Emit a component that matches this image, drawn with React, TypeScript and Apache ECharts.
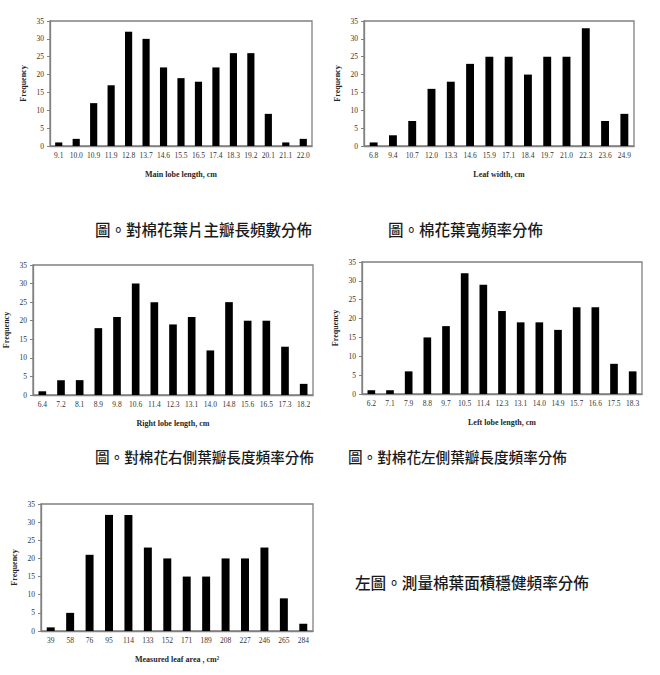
import React, { useEffect, useRef } from "react";
import * as echarts from "echarts";

const mainLobeCats = ["9.1", "10.0", "10.9", "11.9", "12.8", "13.7", "14.6", "15.5", "16.5", "17.4", "18.3", "19.2", "20.1", "21.1", "22.0"];
const mainLobeFreq = [1, 2, 12, 17, 32, 30, 22, 19, 18, 22, 26, 26, 9, 1, 2];

const leafWidthCats = ["6.8", "9.4", "10.7", "12.0", "13.3", "14.6", "15.9", "17.1", "18.4", "19.7", "21.0", "22.3", "23.6", "24.9"];
const leafWidthFreq = [1, 3, 7, 16, 18, 23, 25, 25, 20, 25, 25, 33, 7, 9];

const rightLobeCats = ["6.4", "7.2", "8.1", "8.9", "9.8", "10.6", "11.4", "12.3", "13.1", "14.0", "14.8", "15.6", "16.5", "17.3", "18.2"];
const rightLobeFreq = [1, 4, 4, 18, 21, 30, 25, 19, 21, 12, 25, 20, 20, 13, 3];

const leftLobeCats = ["6.2", "7.1", "7.9", "8.8", "9.7", "10.5", "11.4", "12.3", "13.1", "14.0", "14.9", "15.7", "16.6", "17.5", "18.3"];
const leftLobeFreq = [1, 1, 6, 15, 18, 32, 29, 22, 19, 19, 17, 23, 23, 8, 6];

const areaCats = ["39", "58", "76", "95", "114", "133", "152", "171", "189", "208", "227", "246", "265", "284"];
const areaFreq = [1, 5, 21, 32, 32, 23, 20, 15, 15, 20, 20, 23, 9, 2];

const xTitles = ["Main lobe length, cm", "Leaf width, cm", "Right lobe length, cm", "Left lobe length, cm", "Measured leaf area , cm²"];
const yTitle = "Frequency";

const captions = [
  "圖。對棉花葉片主瓣長頻數分佈",
  "圖。棉花葉寬頻率分佈",
  "圖。對棉花右側葉瓣長度頻率分佈",
  "圖。對棉花左側葉瓣長度頻率分佈",
  "左圖。測量棉葉面積穩健頻率分佈",
];

const panels = [
  { cats: mainLobeCats, vals: mainLobeFreq },
  { cats: leafWidthCats, vals: leafWidthFreq },
  { cats: rightLobeCats, vals: rightLobeFreq },
  { cats: leftLobeCats, vals: leftLobeFreq },
  { cats: areaCats, vals: areaFreq },
];

const gridBoxes = [
  { left: 50, top: 21, width: 262, height: 125 },
  { left: 364, top: 21, width: 270, height: 125 },
  { left: 33, top: 265, width: 280, height: 130 },
  { left: 362, top: 262, width: 280, height: 132 },
  { left: 41, top: 504, width: 272, height: 127 },
];

const captionPos = [
  { x: 95, y: 230, size: 15.5 },
  { x: 388, y: 230, size: 15.5 },
  { x: 95, y: 457, size: 14.6 },
  { x: 348, y: 457, size: 14.6 },
  { x: 355, y: 583, size: 15.6 },
];

export default function App() {
  const ref = useRef<HTMLDivElement>(null);
  useEffect(() => {
    if (!ref.current) return;
    const chart = echarts.init(ref.current, null, { renderer: "svg" });
    const serif = "'Liberation Serif', 'Times New Roman', serif";
    const axisGray = "#808080";
    const option: any = {
      animation: false,
      backgroundColor: "#ffffff",
      grid: gridBoxes.map((g) => ({
        ...g,
        show: true,
        borderColor: axisGray,
        borderWidth: 1.3,
        backgroundColor: "transparent",
        containLabel: false,
      })),
      xAxis: panels.map((p, i) => ({
        type: "category",
        gridIndex: i,
        data: p.cats,
        boundaryGap: true,
        name: xTitles[i],
        nameLocation: "middle",
        nameGap: 24,
        nameTextStyle: { fontFamily: serif, fontWeight: "bold", fontSize: 8, color: "#262626" },
        axisLine: { show: true, lineStyle: { color: axisGray, width: 1.3 } },
        axisTick: { show: false },
        axisLabel: { fontFamily: serif, fontSize: 7.5, color: "#333333", margin: 5, interval: 0 },
        splitLine: { show: false },
      })),
      yAxis: panels.map((_, i) => ({
        type: "value",
        gridIndex: i,
        min: 0,
        max: 35,
        interval: 5,
        name: yTitle,
        nameLocation: "middle",
        nameGap: 23,
        nameTextStyle: { fontFamily: serif, fontWeight: "bold", fontSize: 8, color: "#262626" },
        axisLine: { show: true, lineStyle: { color: axisGray, width: 1.3 } },
        axisTick: { show: true, length: 3, lineStyle: { color: axisGray } },
        axisLabel: { fontFamily: serif, fontSize: 7.5, color: "#333333", margin: 6 },
        splitLine: { show: false },
      })),
      series: panels.map((p, i) => ({
        type: "bar",
        xAxisIndex: i,
        yAxisIndex: i,
        data: p.vals,
        barWidth: "41%",
        itemStyle: { color: "#000000" },
      })),
      graphic: captions.map((c, i) => ({
        type: "text",
        left: captionPos[i].x,
        top: captionPos[i].y - captionPos[i].size / 2 - 1,
        style: {
          text: c,
          fontFamily: "'Noto Sans CJK TC', 'Noto Sans CJK SC', sans-serif",
          fontSize: captionPos[i].size,
          fontWeight: 500,
          fill: "#1a1a1a",
        },
      })),
    };
    chart.setOption(option);
    return () => chart.dispose();
  }, []);
  return (
    <div
      ref={ref}
      style={{ position: "fixed", left: 0, top: 0, width: 660, height: 675, background: "#fff" }}
    />
  );
}
